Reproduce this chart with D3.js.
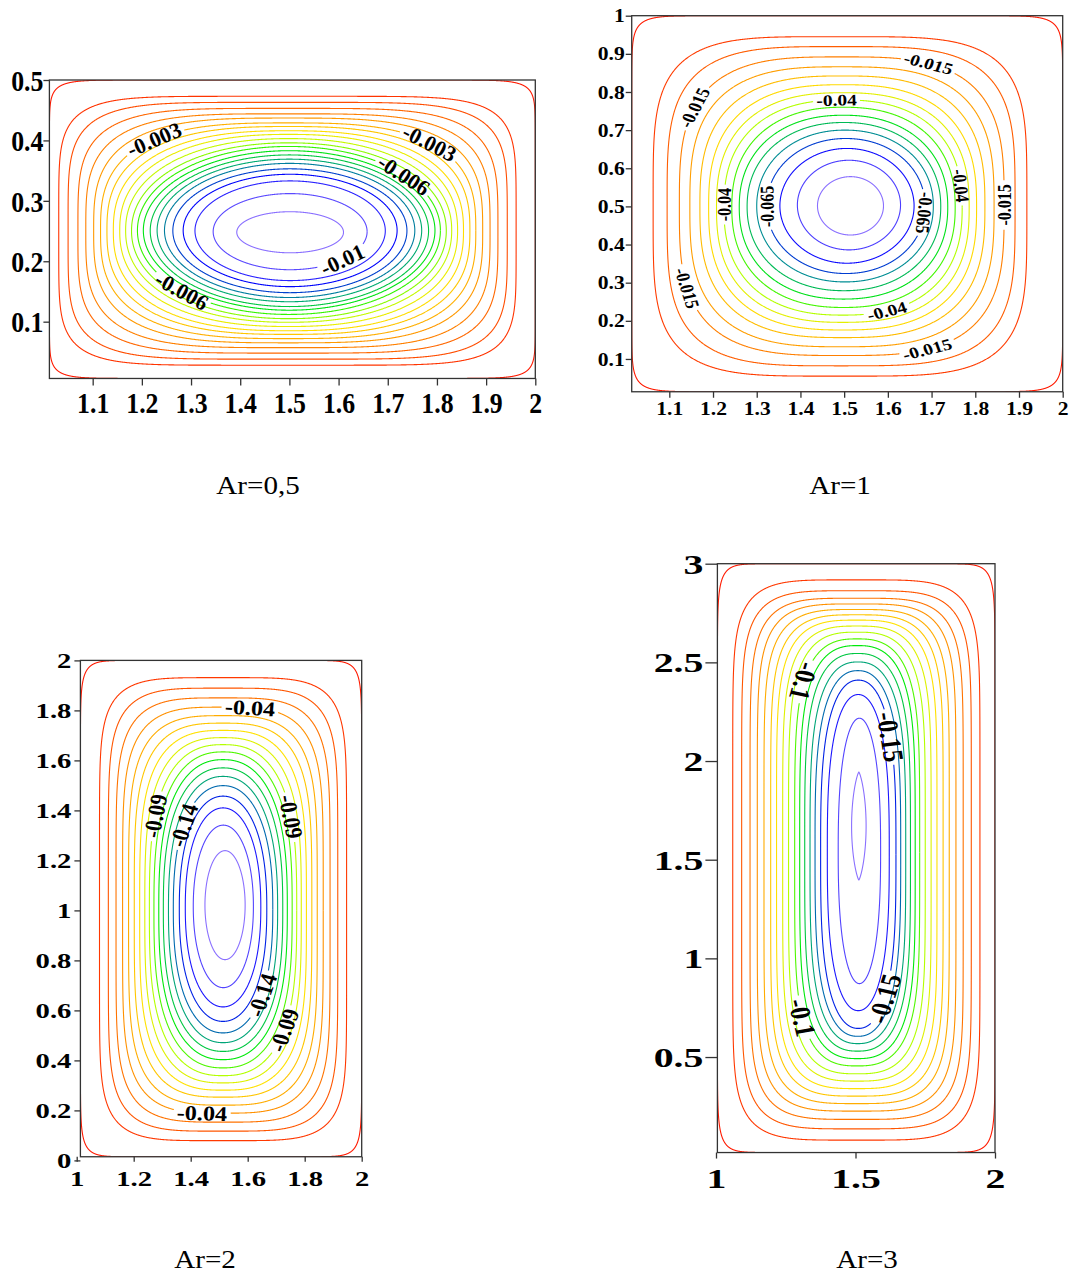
<!DOCTYPE html>
<html>
<head>
<meta charset="utf-8">
<script src="https://cdn.jsdelivr.net/npm/d3@7"></script>
<style>
  body { margin: 0; background: #fff; }
  svg { display: block; }
</style>
</head>
<body>
<svg id="fig" width="1073" height="1277"></svg>
<script>
// stream function contours
// each contour: level, left/right x where it crosses the mid height,
// bottom/top y where it crosses the mid width, and squareness in x / y

// ---- Ar = 0,5 ----
var p1Levels = [0, -0.0005, -0.001, -0.0015, -0.002, -0.0025, -0.003, -0.0035, -0.004, -0.0045, -0.005,
                -0.0055, -0.006, -0.0065, -0.007, -0.0075, -0.008, -0.0085, -0.009, -0.0095, -0.01, -0.0105];
var p1Left   = [1.012, 1.031, 1.050, 1.070, 1.086, 1.102, 1.116, 1.129, 1.142, 1.155, 1.167,
                1.179, 1.191, 1.203, 1.217, 1.231, 1.246, 1.263, 1.284, 1.308, 1.345, 1.393];
var p1Right  = [2.000, 1.961, 1.943, 1.924, 1.908, 1.893, 1.879, 1.867, 1.854, 1.842, 1.830,
                1.819, 1.807, 1.796, 1.783, 1.769, 1.755, 1.739, 1.719, 1.695, 1.658, 1.610];
var p1Bottom = [0.006, 0.028, 0.038, 0.048, 0.057, 0.065, 0.072, 0.079, 0.085, 0.092, 0.099,
                0.105, 0.112, 0.119, 0.125, 0.133, 0.140, 0.148, 0.158, 0.168, 0.186, 0.214];
var p1Top    = [0.500, 0.473, 0.463, 0.453, 0.444, 0.437, 0.429, 0.423, 0.416, 0.410, 0.403,
                0.396, 0.390, 0.383, 0.376, 0.369, 0.362, 0.353, 0.344, 0.333, 0.312, 0.282];
var p1ExpX   = [16, 6.5, 5.3, 4.4, 3.8, 3.3, 2.95, 2.7, 2.5, 2.35, 2.22, 2.12, 2.05, 2.0, 2.0, 2.0, 2.0, 2.0, 2.0, 2.0, 2.0, 2.0];
var p1ExpY   = [16, 5.5, 4.6, 3.9, 3.4, 3.05, 2.8, 2.6, 2.45, 2.32, 2.2, 2.1, 2.04, 2.0, 2.0, 2.0, 2.0, 2.0, 2.0, 2.0, 2.0, 2.0];
var p1XTicks = [1.1, 1.2, 1.3, 1.4, 1.5, 1.6, 1.7, 1.8, 1.9, 2];
var p1YTicks = [0.1, 0.2, 0.3, 0.4, 0.5];
// text, contour index, approx x, approx y, approx angle
var p1Labels = [
  ["-0.003", 6, 1.226, 0.401, -20],
  ["-0.003", 6, 1.784, 0.395, 20],
  ["-0.006", 12, 1.733, 0.343, 25],
  ["-0.006", 12, 1.279, 0.147, 20],
  ["-0.01", 20, 1.608, 0.202, -20]
];

// ---- Ar = 1 ----
var p2Levels = [0, -0.005, -0.01, -0.015, -0.02, -0.025, -0.03, -0.035, -0.04,
                -0.045, -0.05, -0.055, -0.06, -0.065, -0.07, -0.075, -0.08];
var p2Left   = [1.014, 1.063, 1.095, 1.123, 1.147, 1.170, 1.190, 1.208, 1.225,
                1.243, 1.260, 1.278, 1.300, 1.323, 1.353, 1.393, 1.439];
var p2Right  = [2.000, 1.918, 1.891, 1.866, 1.843, 1.822, 1.803, 1.786, 1.770,
                1.754, 1.737, 1.721, 1.704, 1.685, 1.660, 1.629, 1.590];
var p2Bottom = [0.014, 0.055, 0.082, 0.109, 0.132, 0.156, 0.176, 0.196, 0.215,
                0.235, 0.257, 0.279, 0.302, 0.324, 0.351, 0.386, 0.425];
var p2Top    = [1.000, 0.945, 0.919, 0.892, 0.866, 0.842, 0.819, 0.798, 0.779,
                0.760, 0.739, 0.720, 0.700, 0.678, 0.652, 0.621, 0.578];
var p2Exp    = [16, 4.2, 3.7, 3.2, 2.95, 2.75, 2.6, 2.5, 2.4, 2.3, 2.22, 2.15, 2.1, 2.05, 2.0, 2.0, 2.0];
var p2XTicks = [1.1, 1.2, 1.3, 1.4, 1.5, 1.6, 1.7, 1.8, 1.9, 2];
var p2YTicks = [0.1, 0.2, 0.3, 0.4, 0.5, 0.6, 0.7, 0.8, 0.9, 1];
var p2Labels = [
  ["-0.015", 3, 1.693, 0.875, 10],
  ["-0.04", 8, 1.483, 0.796, 0],
  ["-0.015", 3, 1.159, 0.758, -65],
  ["-0.04", 8, 1.220, 0.504, -90],
  ["-0.065", 13, 1.323, 0.500, -90],
  ["-0.065", 13, 1.696, 0.482, 90],
  ["-0.04", 8, 1.803, 0.560, 90],
  ["-0.015", 3, 1.895, 0.503, -90],
  ["-0.015", 3, 1.143, 0.286, 100],
  ["-0.04", 8, 1.600, 0.215, -10],
  ["-0.015", 3, 1.692, 0.118, -10]
];

// ---- Ar = 2 ----
var p3Levels = [0, -0.01, -0.02, -0.03, -0.04, -0.05, -0.06, -0.07, -0.08, -0.09,
                -0.1, -0.11, -0.12, -0.13, -0.14, -0.15, -0.16, -0.17, -0.18];
var p3Left   = [1.013, 1.080, 1.111, 1.138, 1.161, 1.182, 1.202, 1.221, 1.239, 1.255,
                1.271, 1.288, 1.304, 1.322, 1.339, 1.360, 1.381, 1.409, 1.450];
var p3Right  = [2.000, 1.947, 1.916, 1.889, 1.865, 1.844, 1.825, 1.806, 1.788, 1.772,
                1.756, 1.739, 1.723, 1.705, 1.688, 1.667, 1.646, 1.620, 1.591];
var p3Bottom = [0.0146, 0.079, 0.117, 0.153, 0.189, 0.221, 0.253, 0.281, 0.310, 0.339,
                0.370, 0.403, 0.436, 0.471, 0.510, 0.556, 0.614, 0.691, 0.803];
var p3Top    = [2.000, 1.931, 1.889, 1.850, 1.813, 1.779, 1.749, 1.720, 1.691, 1.663,
                1.634, 1.603, 1.570, 1.536, 1.499, 1.457, 1.410, 1.341, 1.239];
var p3ExpX   = [16, 4.6, 4.1, 3.7, 3.4, 3.15, 2.95, 2.75, 2.6, 2.45, 2.35, 2.28, 2.22, 2.18, 2.14, 2.1, 2.06, 2.03, 2.0];
var p3ExpY   = [16, 8, 6.8, 5.9, 5.2, 4.6, 4.1, 3.7, 3.35, 3.05, 2.85, 2.7, 2.6, 2.5, 2.45, 2.35, 2.25, 2.1, 2.0];
var p3XTicks = [1, 1.2, 1.4, 1.6, 1.8, 2];
var p3YTicks = [0, 0.2, 0.4, 0.6, 0.8, 1, 1.2, 1.4, 1.6, 1.8, 2];
var p3Labels = [
  ["-0.04", 4, 1.609, 1.802, 5],
  ["-0.09", 9, 1.257, 1.382, -90],
  ["-0.14", 14, 1.380, 1.339, -70],
  ["-0.09", 9, 1.775, 1.381, 90],
  ["-0.14", 14, 1.650, 0.661, -70],
  ["-0.09", 9, 1.724, 0.522, -70],
  ["-0.04", 4, 1.439, 0.196, 3]
];

// ---- Ar = 3 ----
var p4Levels = [0, -0.01, -0.02, -0.03, -0.04, -0.05, -0.06, -0.07, -0.08,
                -0.09, -0.1, -0.11, -0.12, -0.13, -0.14, -0.15, -0.16, -0.17, -0.18];
var p4Left   = [1.005, 1.060, 1.092, 1.122, 1.148, 1.172, 1.196, 1.217, 1.239,
                1.260, 1.282, 1.300, 1.318, 1.337, 1.355, 1.375, 1.399, 1.438, 1.486];
var p4Right  = [2.000, 1.946, 1.915, 1.886, 1.860, 1.836, 1.814, 1.792, 1.771,
                1.750, 1.730, 1.714, 1.697, 1.680, 1.662, 1.645, 1.621, 1.590, 1.538];
var p4Bottom = [0.016, 0.079, 0.136, 0.184, 0.226, 0.264, 0.302, 0.340, 0.378,
                0.415, 0.455, 0.492, 0.530, 0.568, 0.605, 0.645, 0.735, 0.872, 1.397];
var p4Top    = [3.000, 2.918, 2.863, 2.825, 2.796, 2.768, 2.741, 2.714, 2.684,
                2.653, 2.619, 2.585, 2.545, 2.502, 2.458, 2.410, 2.337, 2.217, 1.944];
var p4ExpX   = [16, 4.6, 4.3, 4.0, 3.75, 3.5, 3.3, 3.15, 3.0, 2.85, 2.7, 2.6, 2.5, 2.4, 2.3, 2.2, 2.1, 2.0, 1.3];
var p4ExpY   = [16, 9, 8.3, 7.7, 7.2, 6.7, 6.3, 5.9, 5.5, 5.1, 4.7, 4.35, 4.0, 3.7, 3.4, 3.15, 2.9, 2.5, 2.0];
var p4XTicks = [1, 1.5, 2];
var p4YTicks = [0.5, 1, 1.5, 2, 2.5, 3];
var p4Labels = [
  ["-0.1", 10, 1.301, 2.410, 105],
  ["-0.1", 10, 1.289, 0.693, 100],
  ["-0.15", 15, 1.659, 2.131, 90],
  ["-0.15", 15, 1.624, 0.787, -80]
];

var SERIF = "'Liberation Serif', 'Times New Roman', Times, serif";
var NPT = 1440;

var rainbow = d3.scaleLinear()
    .domain([0, 0.22, 0.4, 0.5, 0.6, 0.74, 0.86, 1])
    .range(["#ff1a00", "#ff9000", "#ffe600", "#b4ff00", "#00f000", "#009a8a", "#0000ff", "#8a70ff"]);

var panels = [
  { caption: "Ar=0,5", levels: p1Levels, left: p1Left, right: p1Right, bottom: p1Bottom, top: p1Top,
    ex: p1ExpX, ey: p1ExpY, labels: p1Labels, xTicks: p1XTicks, yTicks: p1YTicks,
    yDomain: [0, 0.5], xRange: [43.5, 535.3], yRange: [382.1, 80], frameX0: 1.012, frameY0: 0.006,
    xTick: 7, yTick: 6, tickFont: 30, tickSx: 0.86, xLabY: 413, yLabGap: 6,
    labFont: 22, labSx: 1.0, capX: 258, capY: 494 },
  { caption: "Ar=1", levels: p2Levels, left: p2Left, right: p2Right, bottom: p2Bottom, top: p2Top,
    ex: p2Exp, ey: p2Exp, labels: p2Labels, xTicks: p2XTicks, yTicks: p2YTicks,
    yDomain: [0, 1], xRange: [625.6, 1062.7], yRange: [397.1, 15.7], frameX0: 1.014, frameY0: 0.014,
    xTick: 6, yTick: 6, tickFont: 18, tickSx: 1.2, xLabY: 415, yLabGap: 7,
    labFont: 16, labSx: 1.22, capX: 840, capY: 494 },
  { caption: "Ar=2", levels: p3Levels, left: p3Left, right: p3Right, bottom: p3Bottom, top: p3Top,
    ex: p3ExpX, ey: p3ExpY, labels: p3Labels, xTicks: p3XTicks, yTicks: p3YTicks,
    yDomain: [0, 2], xRange: [76.7, 361.7], yRange: [1160.4, 660.4], frameX0: 1.013, frameY0: 0.0146,
    xTick: 5, yTick: 6, tickFont: 20.5, tickSx: 1.4, xLabY: 1186, yLabGap: 9,
    labFont: 21, labSx: 1.15, capX: 205, capY: 1268 },
  { caption: "Ar=3", levels: p4Levels, left: p4Left, right: p4Right, bottom: p4Bottom, top: p4Top,
    ex: p4ExpX, ey: p4ExpY, labels: p4Labels, xTicks: p4XTicks, yTicks: p4YTicks,
    yDomain: [0, 3], xRange: [716, 995], yRange: [1155.7, 563.7], frameX0: 1.005, frameY0: 0.016,
    xTick: 6, yTick: 12, tickFont: 28, tickSx: 1.42, xLabY: 1188, yLabGap: 14,
    labFont: 24, labSx: 1.2, capX: 867, capY: 1268 }
];

var svg = d3.select('#fig');

panels.forEach(function (P, pi) {
    var x = d3.scaleLinear().domain([1, 2]).range(P.xRange),
        y = d3.scaleLinear().domain(P.yDomain).range(P.yRange);

    var fx0 = x(P.frameX0), fx1 = x(2),
        fy0 = y(P.frameY0), fy1 = y(P.yDomain[1]);

    var g = svg.append('g');
    var clipId = 'clip' + pi;
    svg.append('clipPath').attr('id', clipId)
        .append('rect')
        .attr('x', fx0).attr('y', fy1)
        .attr('width', fx1 - fx0).attr('height', fy0 - fy1);

    // contour outlines in pixel space
    var innermost = P.levels[P.levels.length - 1];
    var lines = P.levels.map(function (lv, i) {
        var cx = (P.left[i] + P.right[i]) / 2, cy = (P.bottom[i] + P.top[i]) / 2,
            a = (P.right[i] - P.left[i]) / 2, b = (P.top[i] - P.bottom[i]) / 2;
        var raw = d3.range(NPT).map(function (k) {
            var t = 2 * Math.PI * k / NPT, c = Math.cos(t), s = Math.sin(t);
            return [x(cx + a * Math.sign(c) * Math.pow(Math.abs(c), 2 / P.ex[i])),
                    y(cy + b * Math.sign(s) * Math.pow(Math.abs(s), 2 / P.ey[i]))];
        });
        var pts = [];
        raw.forEach(function (p, k) {
            var q = raw[(k + 1) % NPT];
            var n = Math.max(1, Math.ceil(Math.hypot(q[0] - p[0], q[1] - p[1]) / 1.5));
            for (var j = 0; j < n; j++) {
                pts.push([p[0] + (q[0] - p[0]) * j / n, p[1] + (q[1] - p[1]) * j / n]);
            }
        });
        return { level: lv, color: rainbow(lv / innermost), pts: pts, gaps: [] };
    });

    var gLines = g.append('g').attr('clip-path', 'url(#' + clipId + ')');
    var gLabels = g.append('g');

    // contour labels, set on their line
    P.labels.forEach(function (lb) {
        var line = lines[lb[1]], pts = line.pts, n = pts.length;
        var tx = x(lb[2]), ty = y(lb[3]);
        var best = 0, bd = Infinity;
        pts.forEach(function (p, k) {
            var d = (p[0] - tx) * (p[0] - tx) + (p[1] - ty) * (p[1] - ty);
            if (d < bd) { bd = d; best = k; }
        });
        var pc = pts[best];
        var ka = best, kb = best;
        while (Math.hypot(pts[ka][0] - pc[0], pts[ka][1] - pc[1]) < 8) ka = (ka - 1 + n) % n;
        while (Math.hypot(pts[kb][0] - pc[0], pts[kb][1] - pc[1]) < 8) kb = (kb + 1) % n;
        var phi = Math.atan2(pts[kb][1] - pts[ka][1], pts[kb][0] - pts[ka][0]);
        var want = lb[4] * Math.PI / 180;
        if (Math.abs(Math.atan2(Math.sin(phi - want), Math.cos(phi - want))) > Math.PI / 2) phi += Math.PI;
        var th = Math.atan2(P.labSx * Math.sin(phi), Math.cos(phi));

        var t = gLabels.append('text')
            .attr('transform', 'translate(' + pc[0] + ',' + pc[1] + ') scale(' + P.labSx + ',1) rotate(' + (th * 180 / Math.PI) + ')')
            .attr('text-anchor', 'middle')
            .attr('dy', '0.35em')
            .attr('font-family', SERIF)
            .attr('font-weight', 'bold')
            .attr('font-size', P.labFont)
            .attr('fill', '#000')
            .text(lb[0]);
        var len = t.node().getComputedTextLength() * Math.hypot(P.labSx * Math.cos(th), Math.sin(th));
        line.gaps.push({ c: pc, r: len / 2 + 3 });
    });

    // contour lines, broken where a label sits
    lines.forEach(function (line) {
        var pts = line.pts, n = pts.length;
        var inGap = pts.map(function (p) {
            return line.gaps.some(function (gp) {
                return Math.hypot(p[0] - gp.c[0], p[1] - gp.c[1]) < gp.r;
            });
        });
        var start = inGap.indexOf(false);
        var segs = [], cur = [];
        for (var k = 0; k <= n; k++) {
            var idx = (start + k) % n;
            if (inGap[idx]) {
                if (cur.length > 1) segs.push(cur);
                cur = [];
            } else {
                cur.push(pts[idx]);
            }
        }
        if (cur.length > 1) segs.push(cur);
        gLines.selectAll(null)
            .data(segs)
            .enter().append('path')
            .attr('d', d3.line())
            .attr('fill', 'none')
            .attr('stroke', line.color)
            .attr('stroke-width', 1.1);
    });

    // frame
    g.append('rect')
        .attr('x', fx0).attr('y', fy1)
        .attr('width', fx1 - fx0).attr('height', fy0 - fy1)
        .attr('fill', 'none')
        .attr('stroke', '#333')
        .attr('stroke-width', 1.3);

    // axes
    var fmt = d3.format('~g');
    var xAxis = g.append('g')
        .attr('transform', 'translate(0,' + fy0 + ')')
        .call(d3.axisBottom(x).tickValues(P.xTicks).tickSize(P.xTick).tickFormat(fmt));
    xAxis.select('.domain').remove();
    xAxis.selectAll('line').attr('stroke', '#333').attr('stroke-width', 1.3);
    xAxis.selectAll('text')
        .attr('y', P.xLabY - fy0)
        .attr('dy', null)
        .attr('transform', 'scale(' + P.tickSx + ',1)')
        .attr('font-family', SERIF)
        .attr('font-weight', 'bold')
        .attr('font-size', P.tickFont)
        .attr('fill', '#000');

    var yAxis = g.append('g')
        .attr('transform', 'translate(' + fx0 + ',0)')
        .call(d3.axisLeft(y).tickValues(P.yTicks).tickSize(P.yTick).tickFormat(fmt));
    yAxis.select('.domain').remove();
    yAxis.selectAll('line').attr('stroke', '#333').attr('stroke-width', 1.3);
    yAxis.selectAll('text')
        .attr('x', -P.yLabGap / P.tickSx)
        .attr('dy', '0.34em')
        .attr('transform', 'scale(' + P.tickSx + ',1)')
        .attr('font-family', SERIF)
        .attr('font-weight', 'bold')
        .attr('font-size', P.tickFont)
        .attr('fill', '#000');

    // caption
    svg.append('text')
        .attr('transform', 'translate(' + P.capX + ',' + P.capY + ') scale(1.12,1)')
        .attr('text-anchor', 'middle')
        .attr('font-family', SERIF)
        .attr('font-size', 26)
        .attr('fill', '#000')
        .text(P.caption);
});
</script>
</body>
</html>
